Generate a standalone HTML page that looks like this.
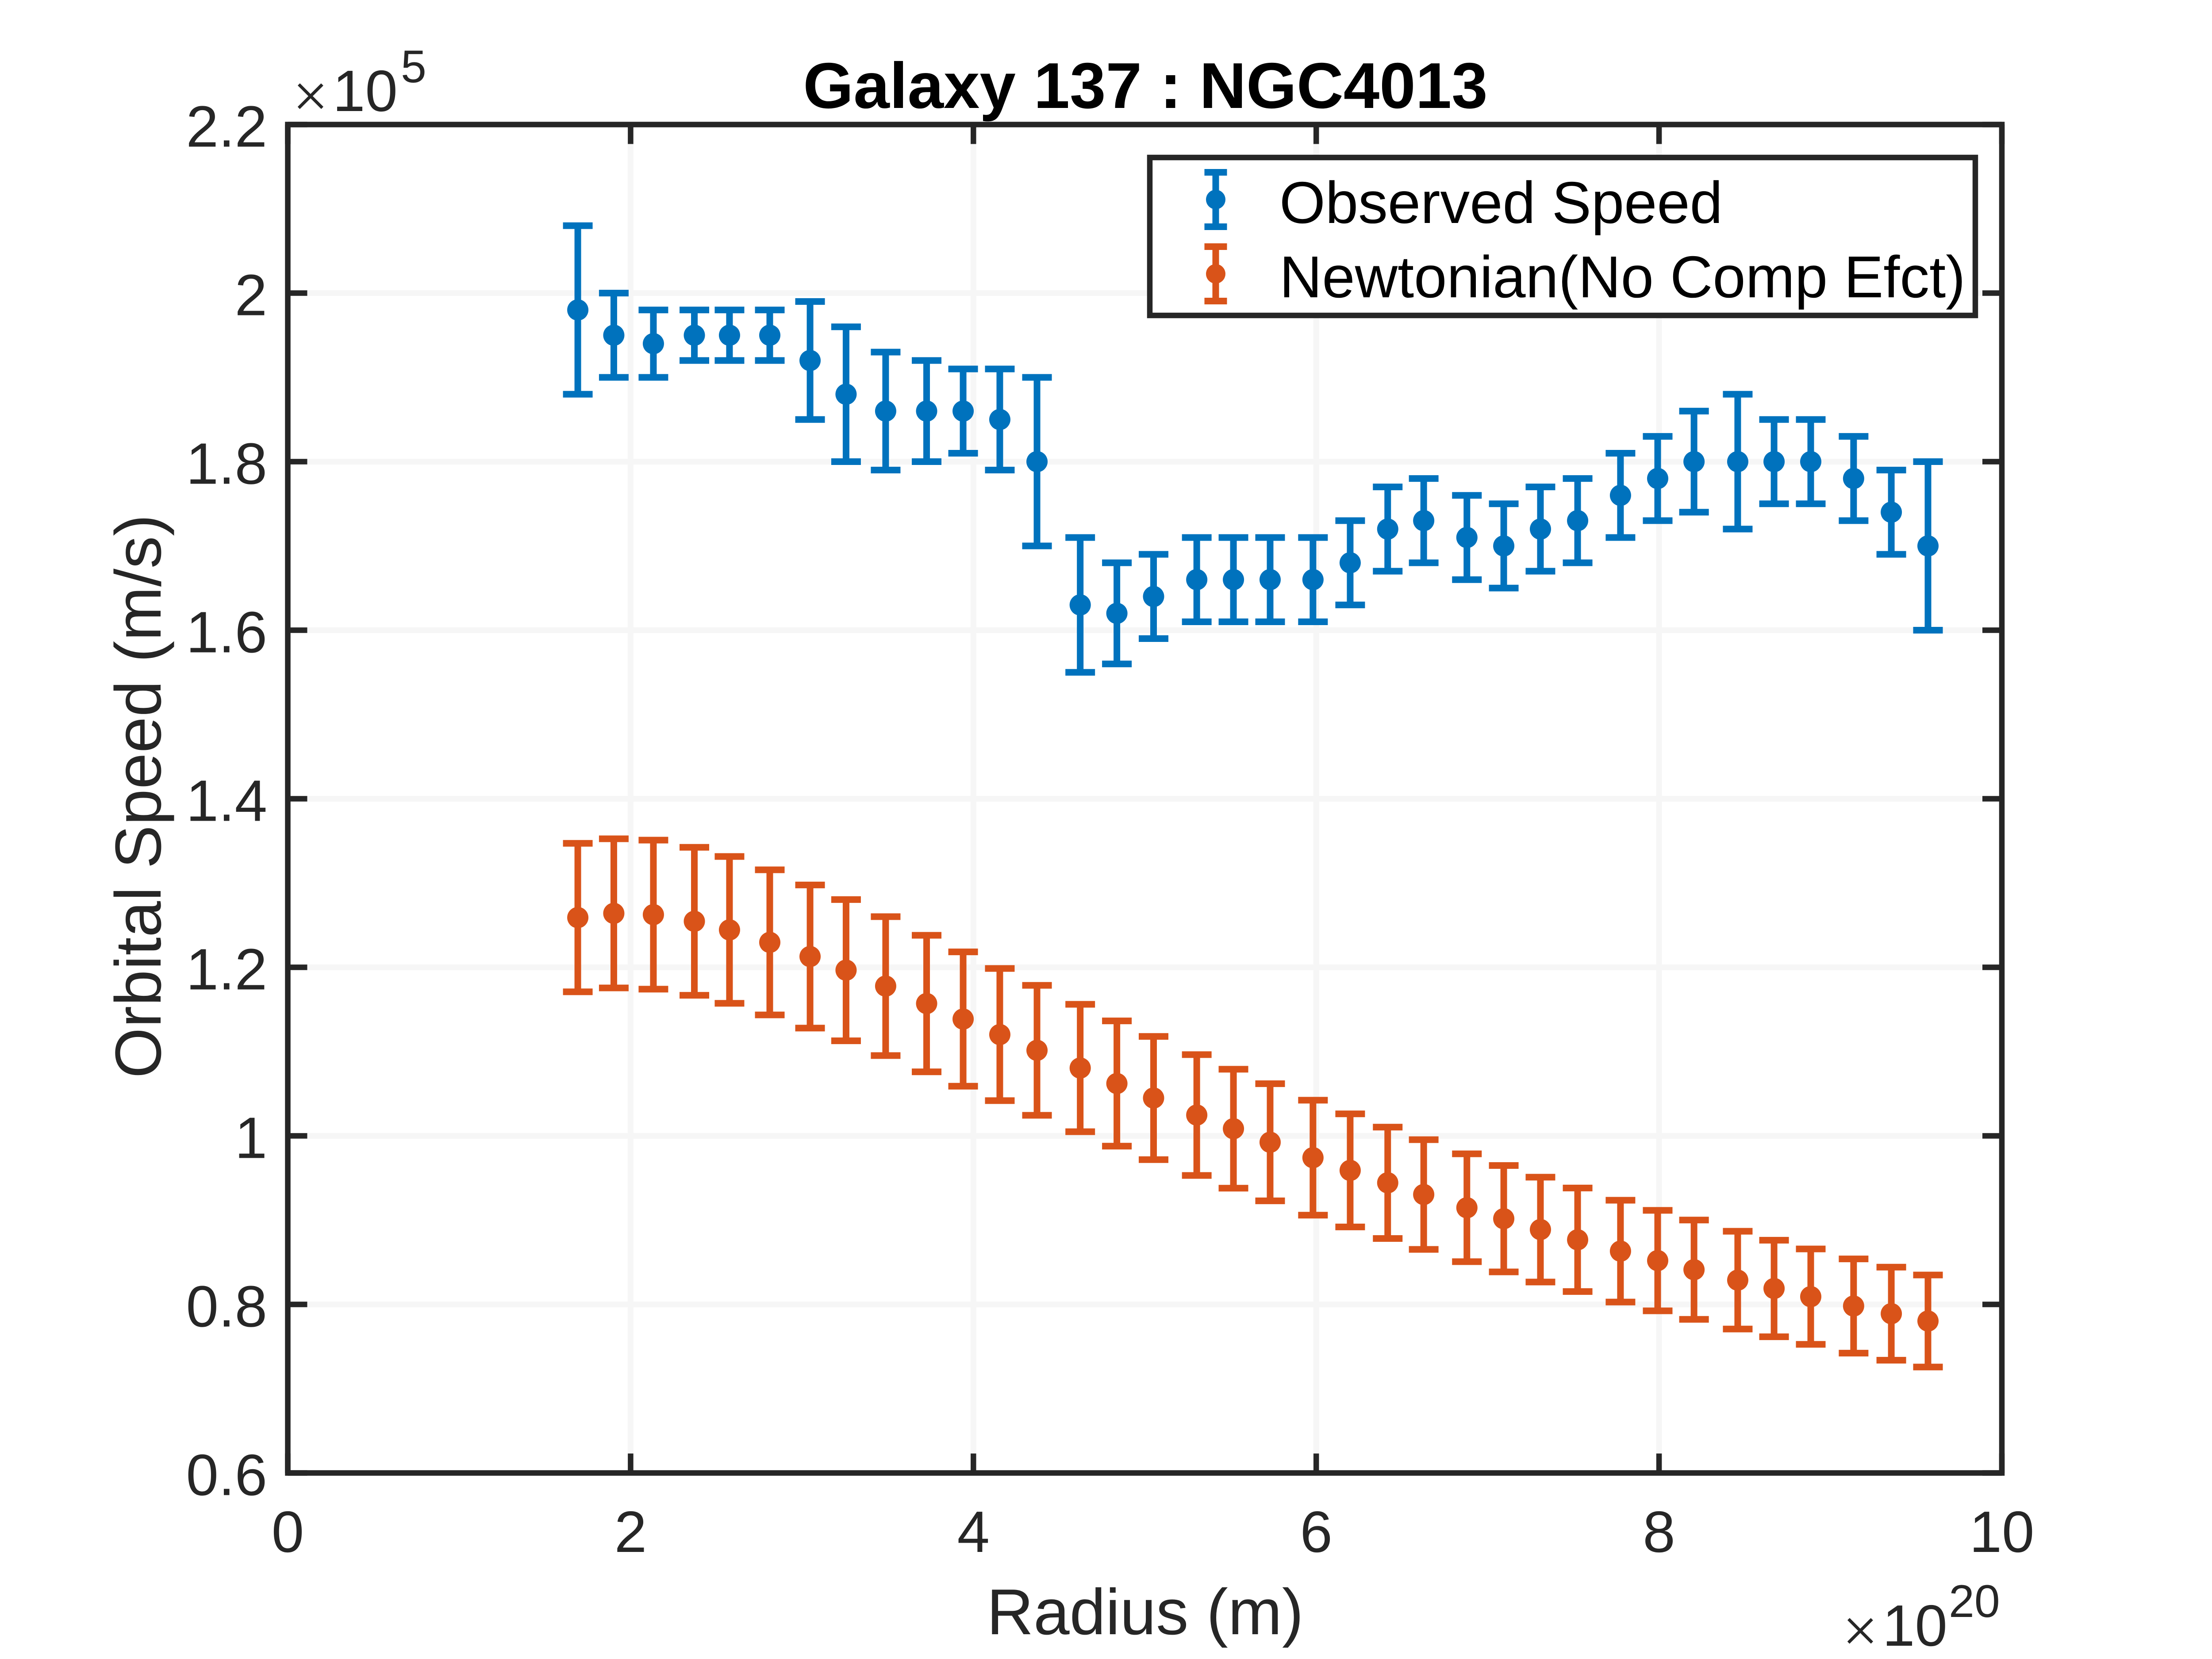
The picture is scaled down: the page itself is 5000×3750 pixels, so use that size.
<!DOCTYPE html>
<html lang="en">
<head>
<meta charset="utf-8">
<title>Galaxy 137 : NGC4013</title>
<style>
html,body{margin:0;padding:0;background:#fff;}
svg{display:block;}
text{font-family:"Liberation Sans",Arial,sans-serif;}
</style>
</head>
<body>
<svg id="chart" xmlns="http://www.w3.org/2000/svg" width="5000" height="3750" viewBox="0 0 5000 3750">
  <rect x="0" y="0" width="5000" height="3750" fill="#ffffff"/>
  <g id="grid"></g>
  <g id="series"></g>
  <g id="axes"></g>
  <g id="ticklabels"></g>

  <text x="2589" y="244" font-size="146.5" font-weight="700" fill="#000000" text-anchor="middle">Galaxy 137 : NGC4013</text>
  <text x="2588.5" y="3694" font-size="146.5" fill="#262626" text-anchor="middle">Radius (m)</text>
  <text transform="translate(363,1800) rotate(-90)" font-size="147" fill="#262626" text-anchor="middle">Orbital Speed (m/s)</text>

  <g fill="#262626">
    <text x="661" y="264" font-size="140" stroke="#ffffff" stroke-width="3" paint-order="fill stroke">×</text>
    <text x="752" y="251" font-size="132">10</text>
    <text x="906" y="186" font-size="104">5</text>
  </g>
  <g fill="#262626">
    <text x="4164" y="3733" font-size="140" stroke="#ffffff" stroke-width="3" paint-order="fill stroke">×</text>
    <text x="4255" y="3720" font-size="132">10</text>
    <text x="4405" y="3655" font-size="104">20</text>
  </g>

  <g>
    <rect x="2599" y="356" width="1866" height="357" fill="#ffffff" stroke="#262626" stroke-width="12.5"/>
    <g id="legend-keys"></g>
    <text x="2892" y="504" font-size="133.5" fill="#000000">Observed Speed</text>
    <text x="2892" y="672" font-size="133.5" fill="#000000">Newtonian(No Comp Efct)</text>
  </g>
</svg>
<script>
// Data (radius in units of 1e20 m, speed in units of 1e5 m/s)
const radius = [1.692,1.902,2.133,2.372,2.577,2.812,3.047,3.257,3.488,3.727,3.940,4.154,4.371,4.623,4.837,5.051,5.303,5.517,5.731,5.981,6.198,6.417,6.627,6.879,7.094,7.308,7.525,7.775,7.992,8.204,8.459,8.671,8.885,9.135,9.355,9.569];
const observedSpeed = [1.98,1.95,1.94,1.95,1.95,1.95,1.92,1.88,1.86,1.86,1.86,1.85,1.80,1.63,1.62,1.64,1.66,1.66,1.66,1.66,1.68,1.72,1.73,1.71,1.70,1.72,1.73,1.76,1.78,1.80,1.80,1.80,1.80,1.78,1.74,1.70];
const observedError = [0.10,0.05,0.04,0.03,0.03,0.03,0.07,0.08,0.07,0.06,0.05,0.06,0.10,0.08,0.06,0.05,0.05,0.05,0.05,0.05,0.05,0.05,0.05,0.05,0.05,0.05,0.05,0.05,0.05,0.06,0.08,0.05,0.05,0.05,0.05,0.10];
const newtonianSpeed = [1.259,1.264,1.2625,1.2546,1.2444,1.2296,1.2128,1.1966,1.1777,1.157,1.1386,1.1202,1.1015,1.0805,1.0621,1.0449,1.0247,1.0085,0.9924,0.9741,0.9590,0.9443,0.9304,0.9147,0.9017,0.8888,0.8767,0.8632,0.8520,0.8412,0.8288,0.8189,0.8092,0.7981,0.7890,0.7803];
const newtonianError = [0.0881,0.0885,0.0884,0.0878,0.0871,0.0861,0.0849,0.0838,0.0824,0.0810,0.0797,0.0784,0.0771,0.0756,0.0743,0.0731,0.0717,0.0706,0.0695,0.0682,0.0671,0.0661,0.0651,0.0640,0.0631,0.0622,0.0614,0.0604,0.0596,0.0589,0.0580,0.0573,0.0566,0.0559,0.0552,0.0546];
const xTicks = [0,2,4,6,8,10];
const yTicks = [0.6,0.8,1,1.2,1.4,1.6,1.8,2,2.2];
const xTickLabels = ['0','2','4','6','8','10'];
const yTickLabels = ['0.6','0.8','1','1.2','1.4','1.6','1.8','2','2.2'];

// Plot geometry
const plotLeft = 650.5, plotRight = 4525, plotTop = 281.5, plotBottom = 3329.5;
const xMin = 0, xMax = 10, yMin = 0.6, yMax = 2.2;
const axisColor = '#262626', blue = '#0072BD', orange = '#D95319';
const SVGNS = 'http://www.w3.org/2000/svg';

function xScale(v) { return plotLeft + (v - xMin) / (xMax - xMin) * (plotRight - plotLeft); }
function yScale(v) { return plotBottom - (v - yMin) / (yMax - yMin) * (plotBottom - plotTop); }

function makeLine(parent, x1, y1, x2, y2, color, width) {
  const el = document.createElementNS(SVGNS, 'line');
  el.setAttribute('x1', x1);
  el.setAttribute('y1', y1);
  el.setAttribute('x2', x2);
  el.setAttribute('y2', y2);
  el.setAttribute('stroke', color);
  el.setAttribute('stroke-width', width);
  parent.appendChild(el);
  return el;
}

const gridGroup = document.getElementById('grid');
const axesGroup = document.getElementById('axes');
const labelGroup = document.getElementById('ticklabels');
const seriesGroup = document.getElementById('series');
const legendKeys = document.getElementById('legend-keys');

// Grid lines
xTicks.forEach(function (t) {
  if (t === xMin || t === xMax) return;
  const el = makeLine(gridGroup, xScale(t), plotTop, xScale(t), plotBottom, '#f6f6f6', 13);
  
  
});
yTicks.forEach(function (t) {
  if (t === yMin || t === yMax) return;
  const el = makeLine(gridGroup, plotLeft, yScale(t), plotRight, yScale(t), '#f6f6f6', 13);
  
  
});

// Error bar series
function drawSeries(name, xs, ys, errs, color) {
  const group = document.createElementNS(SVGNS, 'g');
  
  
  seriesGroup.appendChild(group);
  xs.forEach(function (xv, i) {
    const cx = xScale(xv);
    const top = yScale(ys[i] + errs[i]);
    const bot = yScale(ys[i] - errs[i]);
    const stem = makeLine(group, cx, top, cx, bot, color, 15);
    
    
    const capTop = makeLine(group, cx - 33.5, top, cx + 33.5, top, color, 15);
    
    
    const capBot = makeLine(group, cx - 33.5, bot, cx + 33.5, bot, color, 15);
    
    
    const dot = document.createElementNS(SVGNS, 'circle');
    dot.setAttribute('cx', cx);
    dot.setAttribute('cy', yScale(ys[i]));
    dot.setAttribute('r', 24);
    dot.setAttribute('fill', color);
    
    
    group.appendChild(dot);
  });
}
drawSeries('observed', radius, observedSpeed, observedError, blue);
drawSeries('newtonian', radius, newtonianSpeed, newtonianError, orange);

// Axes box
const frame = document.createElementNS(SVGNS, 'rect');
frame.setAttribute('x', plotLeft);
frame.setAttribute('y', plotTop);
frame.setAttribute('width', plotRight - plotLeft);
frame.setAttribute('height', plotBottom - plotTop);
frame.setAttribute('fill', 'none');
frame.setAttribute('stroke', axisColor);
frame.setAttribute('stroke-width', 12.5);


axesGroup.appendChild(frame);

// Ticks and labels
const tickLen = 44;
function makeLabel(str, x, y, anchor) {
  const el = document.createElementNS(SVGNS, 'text');
  el.setAttribute('x', x);
  el.setAttribute('y', y);
  el.setAttribute('font-size', 132);
  el.setAttribute('fill', axisColor);
  el.setAttribute('text-anchor', anchor);
  el.textContent = str;
  labelGroup.appendChild(el);
  return el;
}
xTicks.forEach(function (t, i) {
  const x = xScale(t);
  const b = makeLine(axesGroup, x, plotBottom, x, plotBottom - tickLen, axisColor, 12.5);
  
  
  const u = makeLine(axesGroup, x, plotTop, x, plotTop + tickLen, axisColor, 12.5);
  
  
  const lab = makeLabel(xTickLabels[i], x, 3508, 'middle');
  
  
});
yTicks.forEach(function (t, i) {
  const y = yScale(t);
  const l = makeLine(axesGroup, plotLeft, y, plotLeft + tickLen, y, axisColor, 12.5);
  
  
  const r = makeLine(axesGroup, plotRight, y, plotRight - tickLen, y, axisColor, 12.5);
  
  
  const lab = makeLabel(yTickLabels[i], 604, y + 50, 'end');
  
  
});

// Legend keys
function drawKey(name, cy, color) {
  const cx = 2748;
  const halfLen = 61.5;
  const stem = makeLine(legendKeys, cx, cy - halfLen, cx, cy + halfLen, color, 15);
  
  
  const capA = makeLine(legendKeys, cx - 25.5, cy - halfLen, cx + 25.5, cy - halfLen, color, 15);
  
  
  const capB = makeLine(legendKeys, cx - 25.5, cy + halfLen, cx + 25.5, cy + halfLen, color, 15);
  
  
  const dot = document.createElementNS(SVGNS, 'circle');
  dot.setAttribute('cx', cx);
  dot.setAttribute('cy', cy);
  dot.setAttribute('r', 22);
  dot.setAttribute('fill', color);
  
  
  legendKeys.appendChild(dot);
}
drawKey('observed', 451, blue);
drawKey('newtonian', 619, orange);
</script>
</body>
</html>
